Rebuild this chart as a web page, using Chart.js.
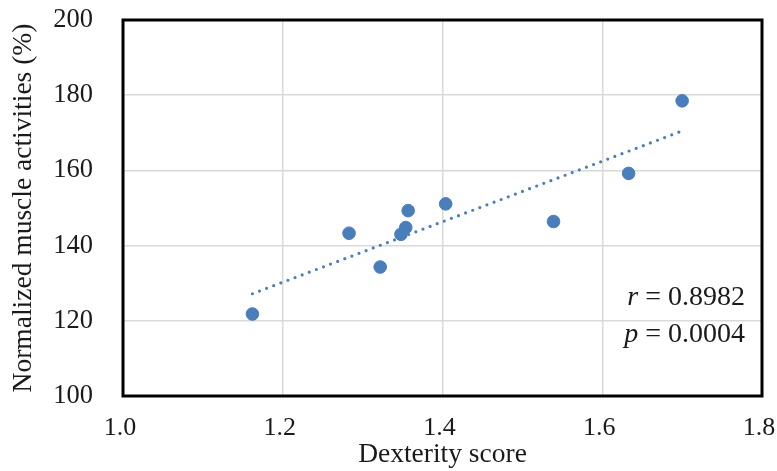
<!DOCTYPE html>
<html>
<head>
<meta charset="utf-8">
<script src="https://cdn.jsdelivr.net/npm/chart.js@4"></script>
<style>
html, body { margin: 0; padding: 0; background: #fff; }
#wrap { width: 777px; height: 471px; }
</style>
</head>
<body>
<div id="wrap"><canvas id="chart"></canvas></div>
<script>
// data
const dexterity = [1.162, 1.283, 1.322, 1.348, 1.354, 1.357, 1.404, 1.539, 1.633, 1.700];
const muscle = [121.8, 143.3, 134.3, 143.0, 144.8, 149.3, 151.1, 146.4, 159.2, 178.5];
const trendX = [1.162, 1.700];
const trendY = [127.2, 170.5];
const xTicks = [1.0, 1.2, 1.4, 1.6, 1.8];
const yTicks = [100, 120, 140, 160, 180, 200];
const statLines = [['r', ' = 0.8982'], ['p', ' = 0.0004']];

const blue = '#4a7ebb';
const serif = '"Liberation Serif", "Times New Roman", serif';

// black frame round the plot + r/p text
const framePlugin = {
    id: 'frame',
    afterDraw(chart) {
        const {ctx, chartArea: a} = chart;
        ctx.save();
        ctx.strokeStyle = '#000';
        ctx.lineWidth = 3;
        ctx.strokeRect(a.left, a.top, a.right - a.left, a.bottom - a.top);

        ctx.fillStyle = '#1a1a1a';
        ctx.textBaseline = 'alphabetic';
        const right = a.right - 17;
        statLines.forEach((ln, i) => {
            const y = a.bottom - 91 + i * 37;
            ctx.font = '28px ' + serif;
            const w2 = ctx.measureText(ln[1]).width;
            ctx.textAlign = 'right';
            ctx.fillText(ln[1], right, y);
            ctx.font = 'italic 28px ' + serif;
            ctx.fillText(ln[0], right - w2, y);
        });
        ctx.restore();
    }
};

const data = {
    datasets: [
        {
            label: 'measured',
            data: dexterity.map((x, i) => ({x, y: muscle[i]})),
            backgroundColor: blue,
            borderColor: blue,
            pointRadius: 6.3,
            order: 1
        },
        {
            label: 'trend',
            type: 'line',
            data: trendX.map((x, i) => ({x, y: trendY[i]})),
            borderColor: blue,
            borderWidth: 3.2,
            borderDash: [0, 7.6],
            borderCapStyle: 'round',
            pointRadius: 0,
            fill: false,
            order: 2
        }
    ]
};

const chart = new Chart(document.getElementById('chart'), {
    type: 'scatter',
    data,
    options: {
        responsive: true,
        maintainAspectRatio: false,
        animation: false,
        layout: { padding: { left: 7, top: 20, right: 15, bottom: 0 } },
        plugins: {
            legend: { display: false },
            tooltip: { enabled: false }
        },
        scales: {
            x: {
                type: 'linear',
                min: 1.0,
                max: 1.8,
                afterBuildTicks: s => { s.ticks = xTicks.map(v => ({value: v})); },
                afterFit: s => { s.height = 75; s.paddingLeft = 0; s.paddingRight = 0; },
                grid: { color: '#d9d9d9', lineWidth: 1.5, drawTicks: false },
                border: { display: false },
                ticks: {
                    padding: 17,
                    labelOffset: -3,
                    color: '#1a1a1a',
                    font: { family: serif, size: 26 },
                    callback: v => v.toFixed(1)
                },
                title: {
                    display: true,
                    text: 'Dexterity score',
                    color: '#1a1a1a',
                    font: { family: serif, size: 27.5 },
                    padding: { top: 0, bottom: 0 }
                }
            },
            y: {
                min: 100,
                max: 200,
                afterBuildTicks: s => { s.ticks = yTicks.map(v => ({value: v})); },
                afterFit: s => { s.width = 116; s.paddingTop = 0; s.paddingBottom = 0; },
                grid: { color: '#d9d9d9', lineWidth: 1.5, drawTicks: false },
                border: { display: false },
                ticks: {
                    padding: 30,
                    color: '#1a1a1a',
                    font: { family: serif, size: 26.5 },
                    callback: v => String(v)
                },
                title: {
                    display: true,
                    text: 'Normalized muscle activities (%)',
                    color: '#1a1a1a',
                    font: { family: serif, size: 27.5 },
                    padding: { top: 0, bottom: 0 }
                }
            }
        }
    },
    plugins: [framePlugin]
});
</script>
</body>
</html>
